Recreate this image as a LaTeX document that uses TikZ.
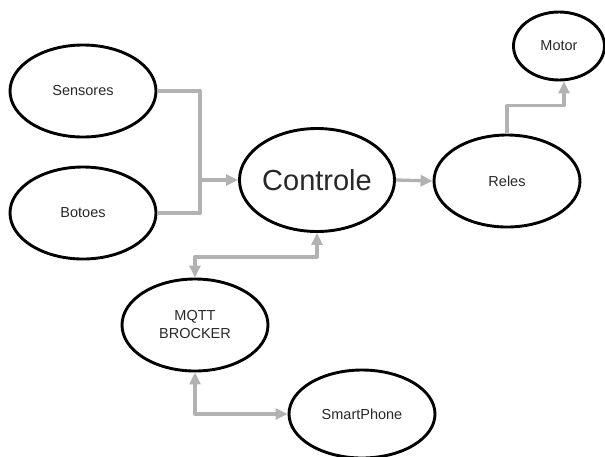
\documentclass[tikz,border=0pt]{standalone}
\usepackage{fontspec}
\setmainfont{Liberation Sans}
\usepackage{tikz}
\usetikzlibrary{shapes.geometric}
\usetikzlibrary{arrows.meta}
\definecolor{fio}{RGB}{178,178,178}
\definecolor{txt}{RGB}{40,40,40}
\tikzset{bola/.style={ellipse,draw=black,line width=2.9pt,inner sep=0pt,text=txt,
  minimum width=146pt,minimum height=92pt,font=\fontsize{14.5}{18}\selectfont,align=center}}
\tikzset{seta/.style={draw=fio,line width=3.3pt,-{Triangle[length=12pt,width=11pt]}}}
\tikzset{dupla/.style={draw=fio,line width=3.3pt,{Triangle[length=12pt,width=11pt]}-{Triangle[length=12pt,width=11pt]}}}
\tikzset{fiop/.style={draw=fio,line width=3.3pt}}

\begin{document}
\begin{tikzpicture}[x=1pt,y=-1pt,line join=round]
  \useasboundingbox (0,0) rectangle (605,456);
  % nos
  \node[bola] (sens) at (83,91) {Sensores};
  \node[bola] (bot) at (83,213) {Botoes};
  \node[bola,minimum width=148pt,minimum height=103pt,font=\fontsize{29}{29}\selectfont] (ctrl) at (317,180) {Controle};
  \node[bola] (rel) at (507,181) {Reles};
  \node[bola,minimum width=91pt,minimum height=68pt] (mot) at (559,46) {Motor};
  \node[bola] (mq) at (195,325) {MQTT\\BROCKER};
  \node[bola,minimum height=88pt] (sp) at (362,414) {SmartPhone};
  % ligacoes
  \coordinate (j) at (200,180);
  \draw[fiop] (sens.east) -| (j);
  \draw[fiop] (bot.east) -| (j);
  \draw[seta] (j) -- (ctrl.west);
  \draw[seta] (ctrl.east) -- (rel.west);
  \draw[seta] (rel.north) -- ++(0,-28) -| ([xshift=5pt]mot.south);
  \draw[dupla] (ctrl.south) -- ++(0,24) -| (mq.north);
  \draw[dupla] (mq.south) |- (sp.west);
\end{tikzpicture}
\end{document}
